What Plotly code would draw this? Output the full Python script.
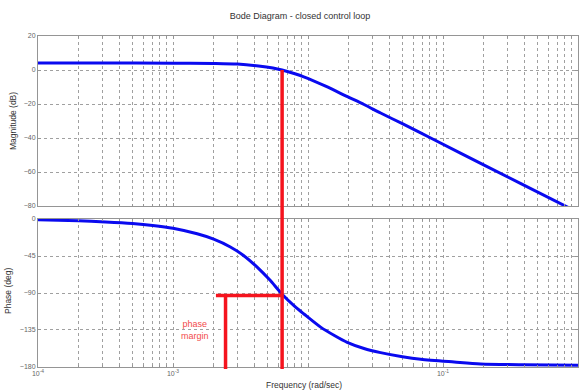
import plotly.graph_objects as go

# Closed-loop frequency response readings (rad/sec, dB, deg)
mag_freq = [1e-4, 3e-4, 1e-3, 2e-3, 3.0e-3, 4.3e-3, 5.5e-3, 6.43e-3, 8.0e-3, 9.3e-3,
            1.35e-2, 1.96e-2, 2.6e-2, 3.45e-2, 5.0e-2, 8.11e-2, 2.0e-1, 7.87e-1, 1.0]
mag_db = [4.1, 4.1, 4.0, 3.85, 3.5, 2.4, 1.2, 0.0, -2.2, -4.0,
          -9.5, -15.7, -20.3, -25.3, -31.6, -40.0, -55.8, -79.6, -83.8]

phase_freq = [1e-4, 2.0e-4, 3.16e-4, 5.01e-4, 7.08e-4, 1e-3, 1.51e-3, 2.0e-3, 2.66e-3,
              3.31e-3, 4.2e-3, 5.2e-3, 6.43e-3, 7.94e-3, 9.33e-3, 1.24e-2, 1.58e-2,
              1.95e-2, 2.6e-2, 3.45e-2, 5.01e-2, 6.84e-2, 1.21e-1, 1.9e-1, 3.98e-1, 1.0]
phase_deg = [-0.8, -2.2, -3.6, -5.5, -7.8, -11.2, -18.0, -24.5, -34.0,
             -44.0, -58.5, -74.0, -91.5, -106.0, -115.5, -131.5, -142.0,
             -150.0, -157.5, -162.5, -167.5, -170.6, -173.9, -176.2, -177.3, -177.9]

# Crossover frequency and phase-margin marker
w_cross = 6.43e-3
pm_level = -93.0
pm_left = 2.08e-3
pm_arrow = 2.45e-3

x_tickvals = [1e-4, 1e-3, 1e-2, 1e-1, 1.0]
x_ticktext = ["10<sup>-4</sup>", "10<sup>-3</sup>", "", "10<sup>-1</sup>", "10<sup>0</sup>"]
mag_ticks = [20, 0, -20, -40, -60, -80]
phase_ticks = [0, -45, -90, -135, -180]

BLUE = "#0a0aef"
RED = "#f5141e"
GRID = "#a0a0a0"
FRAME = "#959595"
TICKFONT = dict(family="Liberation Sans, Arial, sans-serif", size=7, color="#666666")

fig = go.Figure()
fig.add_trace(go.Scatter(x=mag_freq, y=mag_db, mode="lines",
                         line=dict(color=BLUE, width=3, shape="spline", smoothing=0.8),
                         xaxis="x", yaxis="y", showlegend=False, hoverinfo="skip"))
fig.add_trace(go.Scatter(x=phase_freq, y=phase_deg, mode="lines",
                         line=dict(color=BLUE, width=3, shape="spline", smoothing=0.8),
                         xaxis="x2", yaxis="y2", showlegend=False, hoverinfo="skip"))

xcommon = dict(type="log", range=[-4, 0], showline=True, linecolor=FRAME, linewidth=1,
               mirror="allticks", ticks="inside", ticklen=3, tickcolor=FRAME,
               tickmode="array", tickvals=x_tickvals,
               showgrid=True, gridcolor=GRID, griddash="dot", gridwidth=1,
               minor=dict(dtick="D1", showgrid=True, gridcolor=GRID, griddash="dot",
                          gridwidth=1, ticks="inside", ticklen=2, tickcolor=FRAME),
               zeroline=False, tickfont=TICKFONT)
ycommon = dict(showline=True, linecolor=FRAME, linewidth=1, mirror="allticks",
               ticks="inside", ticklen=3, tickcolor=FRAME,
               showgrid=True, gridcolor=GRID, griddash="dot", gridwidth=1,
               zeroline=False, tickfont=TICKFONT, tickmode="array")

fig.update_layout(
    width=582, height=392,
    margin=dict(l=38, r=4, t=36, b=25),
    paper_bgcolor="white", plot_bgcolor="white",
    xaxis=dict(xcommon, domain=[0, 1], anchor="y", showticklabels=False, matches="x2"),
    xaxis2=dict(xcommon, domain=[0, 1], anchor="y2", ticktext=x_ticktext),
    yaxis=dict(ycommon, domain=[0.4864, 1], anchor="x", range=[-80, 20], tickvals=mag_ticks),
    yaxis2=dict(ycommon, domain=[0, 0.4471], anchor="x2", range=[-180, 0], tickvals=phase_ticks),
    title=dict(text="Bode Diagram - closed control loop", x=300 / 582, xanchor="center",
               y=1 - 16 / 392, yanchor="middle",
               font=dict(family="Liberation Sans, Arial, sans-serif", size=9, color="#333333")),
)

label_font = dict(family="Liberation Sans, Arial, sans-serif", size=8.5, color="#333333")
fig.add_annotation(text="Magnitude (dB)", xref="paper", yref="paper",
                   x=(13 - 38) / 540, y=(367 - 121) / 331, textangle=-90,
                   showarrow=False, font=label_font, xanchor="center", yanchor="middle")
fig.add_annotation(text="Phase (deg)", xref="paper", yref="paper",
                   x=(8 - 38) / 540, y=(367 - 291) / 331, textangle=-90,
                   showarrow=False, font=label_font, xanchor="center", yanchor="middle")
fig.add_annotation(text="Frequency (rad/sec)", xref="paper", yref="paper",
                   x=(304 - 38) / 540, y=(367 - 385) / 331,
                   showarrow=False, font=label_font, xanchor="center", yanchor="middle")

# Phase-margin construction lines
fig.add_shape(type="line", xref="x", yref="paper", x0=w_cross, x1=w_cross,
              y0=(367 - 369) / 331, y1=(367 - 70) / 331,
              line=dict(color=RED, width=3.5))
fig.add_shape(type="line", xref="x2", yref="y2", x0=pm_left, x1=w_cross,
              y0=pm_level, y1=pm_level, line=dict(color=RED, width=3.5))
fig.add_shape(type="line", xref="x2", yref="paper", x0=pm_arrow, x1=pm_arrow,
              y0=(367 - 369) / 331, y1=(367 - 295) / 331,
              line=dict(color=RED, width=3.5))
fig.add_annotation(text="phase<br>margin", xref="x2", yref="y2", x=-2.837, y=-135.3,
                   showarrow=False, xanchor="center", yanchor="middle",
                   font=dict(family="Liberation Sans, Arial, sans-serif", size=9, color="#f24a4a"))

fig.write_html("out.html")
